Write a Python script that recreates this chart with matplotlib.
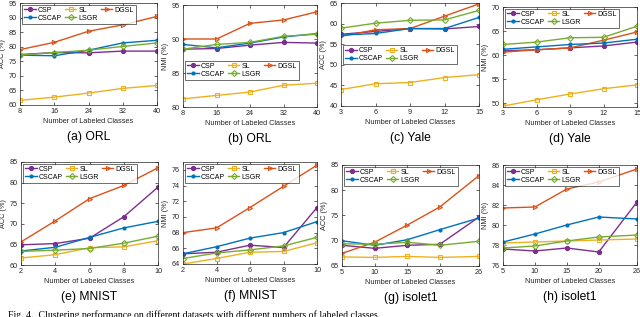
import matplotlib
matplotlib.use('Agg')
import matplotlib.pyplot as plt

plt.rcParams['font.family'] = ['Liberation Sans', 'DejaVu Sans']

methods = ['CSP', 'SL', 'DGSL', 'CSCAP', 'LSGR']
colors = {'CSP': '#7E2F8E', 'SL': '#EDB120', 'DGSL': '#D95319',
          'CSCAP': '#0072BD', 'LSGR': '#77AC30'}
markers = {'CSP': 'o', 'SL': 's', 'DGSL': '>', 'CSCAP': 'o', 'LSGR': 'D'}
filled = {'CSP': True, 'SL': False, 'DGSL': False, 'CSCAP': True, 'LSGR': False}

x_orl = [8, 16, 24, 32, 40]
x_yale = [3, 6, 9, 12, 15]
x_mnist = [2, 4, 6, 8, 10]
x_isolet = [5, 10, 15, 20, 26]

orl_acc = {
    'CSP': [77.3, 78.0, 77.9, 78.5, 78.5],
    'SL': [61.6, 62.7, 64.1, 65.7, 66.7],
    'DGSL': [79.0, 81.5, 85.3, 87.5, 90.4],
    'CSCAP': [77.1, 76.9, 78.8, 81.3, 82.2],
    'LSGR': [77.1, 78.0, 78.8, 80.1, 81.3],
}
orl_nmi = {
    'CSP': [88.5, 88.6, 89.1, 89.5, 89.4],
    'SL': [81.2, 81.7, 82.2, 83.2, 83.5],
    'DGSL': [90.0, 90.0, 92.3, 92.8, 94.0],
    'CSCAP': [89.2, 88.7, 89.4, 90.3, 90.8],
    'LSGR': [88.5, 89.2, 89.5, 90.4, 90.7],
}
yale_acc = {
    'CSP': [57.4, 58.1, 58.8, 58.7, 59.3],
    'SL': [44.0, 45.4, 45.7, 46.9, 47.6],
    'DGSL': [56.9, 58.5, 58.8, 61.8, 64.8],
    'CSCAP': [57.2, 57.6, 58.8, 58.8, 61.5],
    'LSGR': [58.9, 60.1, 60.8, 60.9, 63.2],
}
yale_nmi = {
    'CSP': [60.9, 61.1, 61.5, 61.9, 62.7],
    'SL': [49.4, 50.7, 51.9, 53.0, 53.8],
    'DGSL': [60.6, 61.1, 61.5, 63.1, 64.8],
    'CSCAP': [61.2, 61.7, 62.2, 62.5, 63.3],
    'LSGR': [62.2, 62.7, 63.6, 63.7, 66.0],
}
mnist_acc = {
    'CSP': [64.9, 65.2, 66.5, 71.7, 78.9],
    'SL': [61.7, 62.5, 64.2, 64.4, 65.9],
    'DGSL': [65.6, 70.7, 76.1, 79.3, 83.6],
    'CSCAP': [63.4, 64.3, 66.7, 69.0, 70.6],
    'LSGR': [63.3, 63.6, 64.0, 65.3, 67.0],
}
mnist_nmi = {
    'CSP': [65.3, 65.5, 66.4, 66.1, 71.2],
    'SL': [64.0, 64.7, 65.5, 65.6, 66.7],
    'DGSL': [68.0, 68.6, 71.2, 73.9, 76.6],
    'CSCAP': [65.3, 66.2, 67.3, 68.0, 69.4],
    'LSGR': [64.7, 65.4, 65.8, 66.3, 67.4],
}
isolet_acc = {
    'CSP': [69.1, 68.5, 69.1, 69.3, 74.7],
    'SL': [66.8, 66.7, 66.9, 66.7, 66.9],
    'DGSL': [67.5, 69.7, 73.1, 76.7, 82.9],
    'CSCAP': [70.0, 69.1, 70.2, 72.2, 74.5],
    'LSGR': [69.4, 69.3, 69.7, 69.1, 69.9],
}
isolet_nmi = {
    'CSP': [77.6, 77.4, 77.7, 77.3, 82.3],
    'SL': [78.2, 78.3, 78.4, 78.5, 78.6],
    'DGSL': [81.7, 81.8, 83.6, 84.3, 85.6],
    'CSCAP': [78.3, 79.1, 80.0, 80.8, 80.6],
    'LSGR': [77.7, 77.9, 78.4, 78.8, 79.0],
}

# (data, x, ylabel, title, ylim, yticks, legend loc, legend anchor, axes box in px: left, top, right, bottom)
panels = [
    (orl_acc, x_orl, 'ACC (%)', '(a) ORL', (60, 95), range(60, 96, 5), 'upper left', (0, 1), (20, 3, 157, 105)),
    (orl_nmi, x_orl, 'NMI (%)', '(b) ORL', (80, 95), range(80, 96, 5), 'center left', (0, 0.36), (183, 5, 317, 107)),
    (yale_acc, x_yale, 'ACC (%)', '(c) Yale', (40, 65), range(40, 66, 5), 'center left', (0, 0.5), (341, 3, 479, 106)),
    (yale_nmi, x_yale, 'NMI (%)', '(d) Yale', (49.2, 70), range(50, 71, 5), 'upper left', (0, 1), (503, 7, 637, 107)),
    (mnist_acc, x_mnist, 'ACC (%)', '(e) MNIST', (60, 85), range(60, 86, 5), 'upper left', (0, 1), (21, 162, 158, 265)),
    (mnist_nmi, x_mnist, 'NMI (%)', '(f) MNIST', (64, 77), range(64, 77, 2), 'upper left', (0, 1), (183, 162, 317, 264)),
    (isolet_acc, x_isolet, 'ACC (%)', '(g) isolet1', (65, 85), range(65, 86, 5), 'upper left', (0, 1), (342, 165, 479, 266)),
    (isolet_nmi, x_isolet, 'NMI (%)', '(h) isolet1', (76, 86), range(76, 87, 2), 'upper left', (0, 1), (503, 165, 637, 265)),
]

W, H = 640, 317
fig = plt.figure(figsize=(W / 100, H / 100), dpi=100)

for data, xs, ylab, title, ylim, yticks, loc, anchor, (l, t, r, b) in panels:
    ax = fig.add_axes([l / W, 1 - b / H, (r - l) / W, (b - t) / H])
    for m in methods:
        ms = 2.2 if m == 'CSCAP' else 3
        ax.plot(xs, data[m], color=colors[m], marker=markers[m], markersize=ms,
                markerfacecolor=colors[m] if filled[m] else 'none',
                markeredgewidth=0.8, linewidth=1.0, label=m)
    ax.set_xlim(xs[0], xs[-1])
    ax.set_xticks(xs)
    ax.set_ylim(*ylim)
    ax.set_yticks(list(yticks))
    ax.tick_params(direction='in', length=2, width=0.5, labelsize=5.2, pad=2.5,
                   top=True, right=True, colors='#262626')
    for s in ax.spines.values():
        s.set_linewidth(0.5)
        s.set_color('#262626')
    ax.set_xlabel('Number of Labeled Classes', fontsize=5.3, labelpad=2, color='#262626')
    ax.set_ylabel(ylab, fontsize=5.3, labelpad=1.5, color='#262626')
    ax.text(0.5, -32 / (b - t), title, transform=ax.transAxes, ha='center', va='center',
            fontsize=8.7)
    h, lab = ax.get_legend_handles_labels()
    order = [0, 3, 1, 4, 2]
    leg = ax.legend([h[i] for i in order], [lab[i] for i in order], loc=loc,
                    bbox_to_anchor=anchor, ncol=3,
                    fontsize=5, frameon=True, fancybox=False, borderpad=0.25,
                    handlelength=1.7, handletextpad=0.3, columnspacing=0.4,
                    labelspacing=0.15, borderaxespad=0.3)
    leg.get_frame().set_edgecolor('black')
    leg.get_frame().set_linewidth(0.5)

# caption partly cropped at the bottom edge, as in the source figure
fig.text(8 / W, 1 - 310 / H,
         'Fig. 4.  Clustering performance on different datasets with different numbers of labeled classes.',
         ha='left', va='top', fontsize=7, family=['Liberation Serif', 'DejaVu Serif'])

fig.savefig('out.png', dpi=100)
